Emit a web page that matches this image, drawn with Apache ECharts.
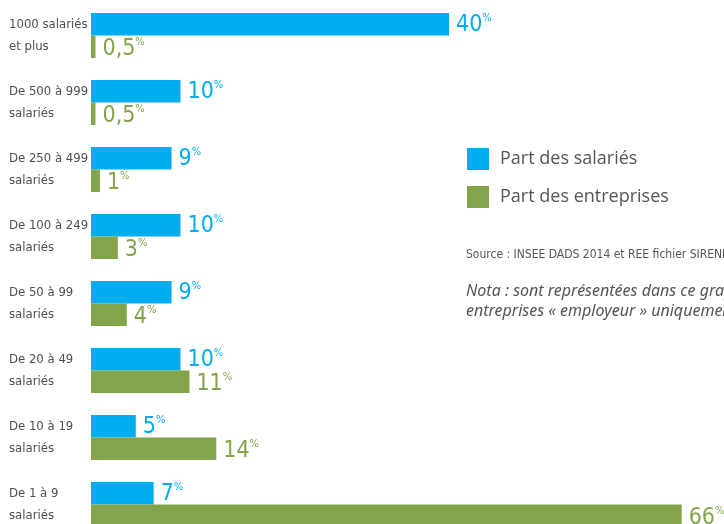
<!DOCTYPE html>
<html>
<head>
<meta charset="utf-8">
<script src="https://cdn.jsdelivr.net/npm/echarts@6/dist/echarts.min.js"></script>
<style>
  html, body { margin: 0; padding: 0; background: #fff; }
  #chart { width: 724px; height: 524px; }
</style>
</head>
<body>
<div id="chart"></div>
<script>
// Répartition par tranche d'effectif
const categories = [
  '1000 salariés\net plus',
  'De 500 à 999\nsalariés',
  'De 250 à 499\nsalariés',
  'De 100 à 249\nsalariés',
  'De 50 à 99\nsalariés',
  'De 20 à 49\nsalariés',
  'De 10 à 19\nsalariés',
  'De 1 à 9\nsalariés'
];
const partSalaries = [40, 10, 9, 10, 9, 10, 5, 7];
const partEntreprises = [0.5, 0.5, 1, 3, 4, 11, 14, 66];
const seriesNames = ['Part des salariés', 'Part des entreprises'];

const BLUE = '#00adee';
const GREEN = '#82a54b';
const NARROW = '"DejaVu Sans Condensed", "DejaVu Sans", sans-serif';

function pctLabel(color, dy) {
  return {
    show: true,
    position: 'right',
    distance: 7,
    offset: [0, dy],
    formatter: p => '{n|' + String(p.value).replace('.', ',') + '}{p|%}',
    rich: {
      n: { fontFamily: NARROW, fontSize: 23, color: color, lineHeight: 24, verticalAlign: 'bottom' },
      p: { fontFamily: NARROW, fontSize: 11, color: color, lineHeight: 24, verticalAlign: 'top', padding: [0, 0, 12, 0] }
    }
  };
}

const chart = echarts.init(document.getElementById('chart'));
chart.setOption({
  animation: false,
  // plot area runs past the right and bottom edges of the page
  grid: { left: 91, top: 2, width: 716, height: 536, containLabel: false, outerBoundsMode: 'none' },
  xAxis: { type: 'value', min: 0, max: 80, show: false },
  yAxis: {
    type: 'category',
    data: categories,
    inverse: true,
    axisLine: { show: false },
    axisTick: { show: false },
    splitLine: { show: false },
    axisLabel: {
      align: 'left',
      margin: 82,
      fontFamily: NARROW,
      fontSize: 13,
      lineHeight: 22,
      color: '#4f4f4f',
      padding: [0, 0, 14, 0]
    }
  },
  legend: {
    orient: 'vertical',
    left: 467,
    top: 148,
    padding: 0,
    itemWidth: 22,
    itemHeight: 22,
    itemGap: 16,
    icon: 'rect',
    textStyle: { fontFamily: '"Open Sans", sans-serif', fontSize: 18, color: '#555', padding: [0, 0, 0, 6] },
    data: seriesNames
  },
  graphic: [
    {
      type: 'text', left: 466, top: 249,
      style: { text: 'Source : INSEE DADS 2014 et REE fichier SIRENE', font: '12px ' + NARROW, fill: '#555' }
    },
    {
      type: 'text', left: 466, top: 281,
      style: {
        text: 'Nota : sont représentées dans ce graphique les\nentreprises « employeur » uniquement.',
        font: 'italic 16px "Noto Sans", sans-serif', fill: '#555', lineHeight: 20
      }
    }
  ],
  series: [
    {
      name: seriesNames[0], type: 'bar', data: partSalaries,
      barWidth: 22.5, barGap: '0%',
      itemStyle: { color: BLUE },
      label: pctLabel(BLUE, 0)
    },
    {
      name: seriesNames[1], type: 'bar', data: partEntreprises,
      barWidth: 22.5, barGap: '0%',
      itemStyle: { color: GREEN },
      label: pctLabel(GREEN, 2)
    }
  ]
});
</script>
</body>
</html>
